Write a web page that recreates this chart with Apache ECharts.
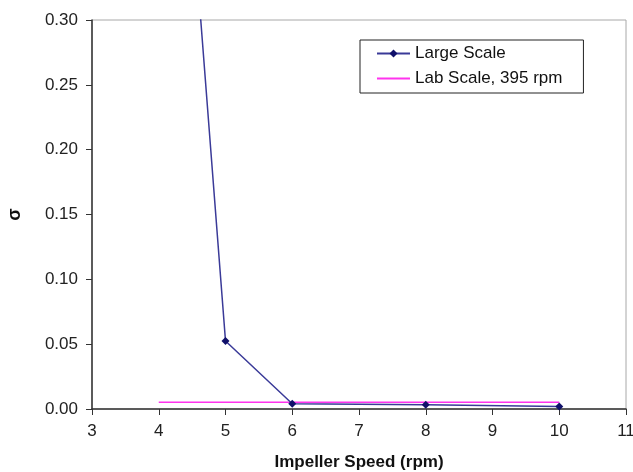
<!DOCTYPE html>
<html>
<head>
<meta charset="utf-8">
<script src="https://cdn.jsdelivr.net/npm/echarts@6/dist/echarts.min.js"></script>
<style>
  html, body { margin: 0; padding: 0; background: #fff; }
  #chart { width: 633px; height: 472px; }
</style>
</head>
<body>
<div id="chart"></div>
<script>
// impeller speed (rpm) and sigma values
const largeSpeed = [4, 5, 6, 8, 10];
const largeSigma = [0.72, 0.0525, 0.004, 0.0033, 0.002];
const labSpeed = [4, 10];
const labSigma = [0.0052, 0.0052];

const chart = echarts.init(document.getElementById('chart'));
const font = 'Liberation Sans, Arial, sans-serif';

chart.setOption({
    animation: false,
    textStyle: { fontFamily: font },
    grid: {
        left: 92, right: 7, top: 20, bottom: 63,
        outerBoundsMode: 'none',
        show: true, borderColor: '#a8a8a8', borderWidth: 1
    },
    legend: {
        orient: 'vertical',
        left: 360,
        top: 40,
        padding: [5, 21, 6, 16],
        itemGap: 8,
        itemWidth: 33,
        itemHeight: 10,
        borderColor: '#222',
        borderWidth: 1,
        textStyle: { fontSize: 17, color: '#111', fontFamily: font },
        data: [
            'Large Scale',
            { name: 'Lab Scale, 395 rpm', icon: 'path://M0,0h33v2h-33z' }
        ]
    },
    xAxis: {
        type: 'value',
        min: 3,
        max: 11,
        interval: 1,
        name: 'Impeller Speed (rpm)',
        nameLocation: 'middle',
        nameGap: 45,
        nameTextStyle: { fontSize: 17, fontWeight: 'bold', color: '#111' },
        axisLine: { show: true, lineStyle: { color: '#333', width: 1.5 } },
        axisTick: { show: true, length: 6, lineStyle: { color: '#333' } },
        axisLabel: { fontSize: 17, color: '#222', margin: 14 },
        splitLine: { show: false }
    },
    yAxis: {
        type: 'value',
        min: 0,
        max: 0.30,
        interval: 0.05,
        name: 'σ',
        nameLocation: 'middle',
        nameGap: 68,
        nameTextStyle: { fontSize: 18, fontWeight: 'bold', color: '#111' },
        axisLine: { show: true, lineStyle: { color: '#333', width: 1.5 } },
        axisTick: { show: true, length: 6, lineStyle: { color: '#333' } },
        axisLabel: { fontSize: 17, color: '#222', margin: 14, formatter: v => v.toFixed(2) },
        splitLine: { show: false }
    },
    series: [
        {
            name: 'Lab Scale, 395 rpm',
            type: 'line',
            data: labSpeed.map((x, i) => [x, labSigma[i]]),
            showSymbol: false,
            symbol: 'none',
            lineStyle: { color: '#ff33ee', width: 1.5 },
            itemStyle: { color: '#ff33ee' }
        },
        {
            name: 'Large Scale',
            type: 'line',
            data: largeSpeed.map((x, i) => [x, largeSigma[i]]),
            symbol: 'diamond',
            symbolSize: 8,
            clip: true,
            lineStyle: { color: '#3a3a98', width: 1.5 },
            itemStyle: { color: '#10106a' }
        }
    ]
});
</script>
</body>
</html>
